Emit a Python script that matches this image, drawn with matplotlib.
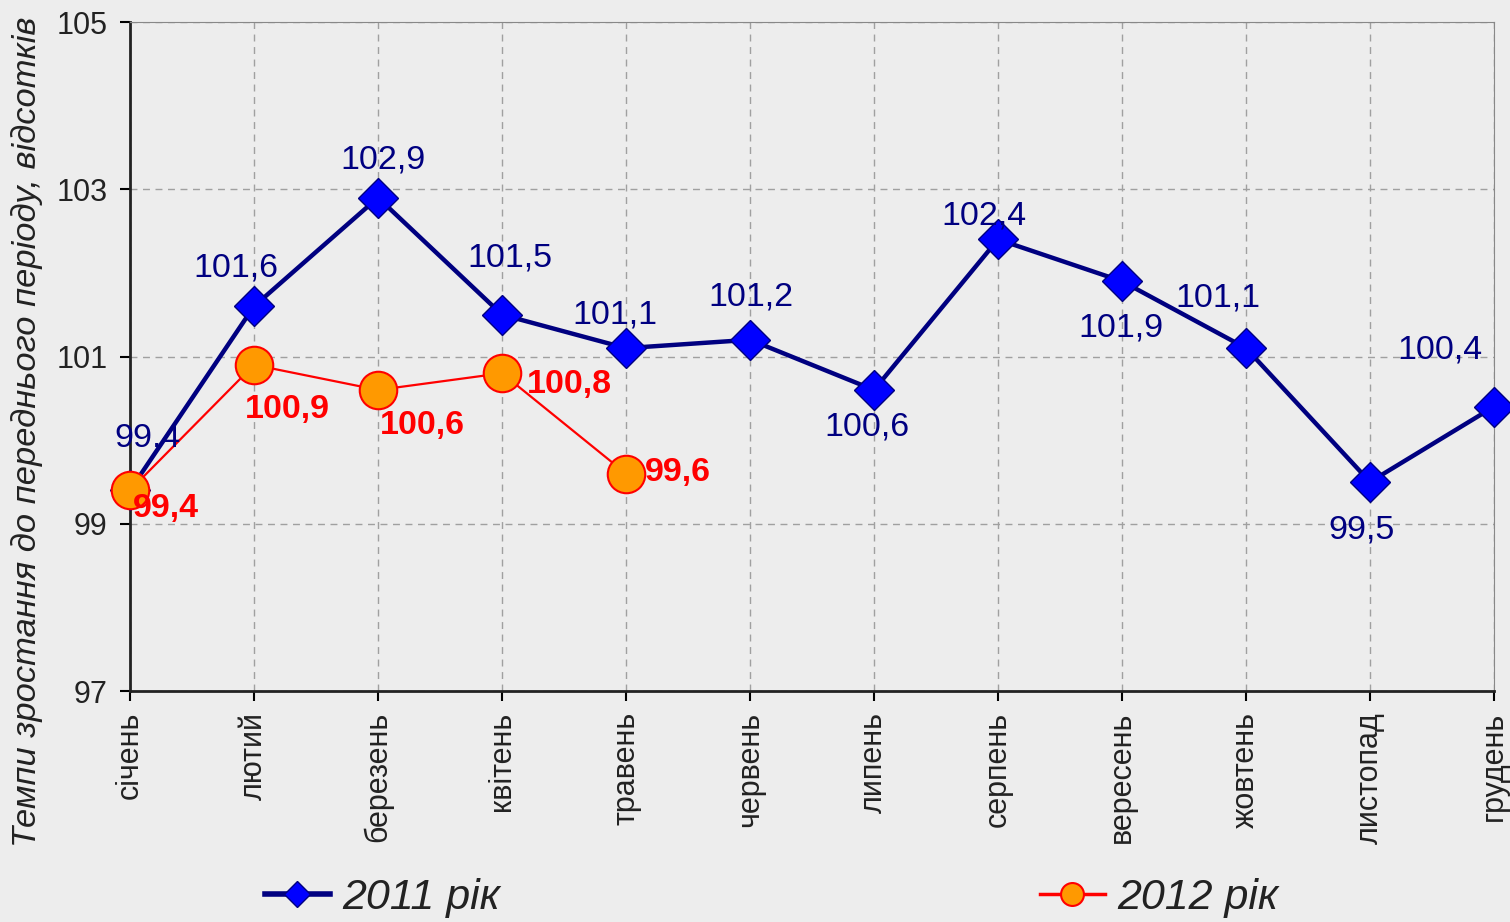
import matplotlib
matplotlib.use("Agg")
import matplotlib.pyplot as plt
from matplotlib.lines import Line2D

# Місяці
months = ['січень', 'лютий', 'березень', 'квітень', 'травень', 'червень',
          'липень', 'серпень', 'вересень', 'жовтень', 'листопад', 'грудень']

# Темпи зростання, %
values_2011 = [99.4, 101.6, 102.9, 101.5, 101.1, 101.2, 100.6, 102.4, 101.9, 101.1, 99.5, 100.4]
values_2012 = [99.4, 100.9, 100.6, 100.8, 99.6]

# Зсув підписів (пікселі)
offsets_2011 = [(18, 52), (-18, 38), (5, 38), (8, 57), (-11, 33), (1, 43),
                (-7, -37), (-14, 23), (-1, -47), (-28, 50), (-8, -48), (-54, 57)]
offsets_2012 = [(36, -18), (33, -45), (44, -36), (67, -11), (52, 1)]

bg = '#ededed'
plt.rcParams['font.family'] = ['Liberation Sans', 'DejaVu Sans']

fig = plt.figure(figsize=(15.1, 9.22), dpi=100, facecolor=bg)
ax = fig.add_axes([130 / 1510, 1 - 691 / 922, (1494 - 130) / 1510, (691 - 22) / 922])
ax.set_facecolor(bg)

x1 = list(range(len(values_2011)))
x2 = list(range(len(values_2012)))

ax.plot(x1, values_2011, color='#000080', lw=3.2, marker='D', markersize=20,
        markerfacecolor='#0000ff', markeredgecolor='#000080', markeredgewidth=1,
        clip_on=False, zorder=3)
ax.plot(x2, values_2012, color='#ff0000', lw=1.6, marker='o', markersize=27,
        markerfacecolor='#ff9900', markeredgecolor='#ff0000', markeredgewidth=1.5,
        clip_on=False, zorder=4)

for x, v, (dx, dy) in zip(x1, values_2011, offsets_2011):
    ax.annotate(f'{v:.1f}'.replace('.', ','), (x, v), xytext=(dx, dy),
                textcoords='offset pixels', ha='center', va='center',
                fontsize=24.5, color='#000080', zorder=5, annotation_clip=False)

for x, v, (dx, dy) in zip(x2, values_2012, offsets_2012):
    ax.annotate(f'{v:.1f}'.replace('.', ','), (x, v), xytext=(dx, dy),
                textcoords='offset pixels', ha='center', va='center',
                fontsize=24.5, fontweight='bold', color='#ff0000', zorder=6,
                annotation_clip=False)

ax.set_xlim(0, 11)
ax.set_ylim(97, 105)
ax.set_yticks([97, 99, 101, 103, 105])
ax.set_xticks(x1)
ax.set_xticklabels(months, rotation=90, fontsize=22, color='#222222')
ax.tick_params(axis='y', labelsize=22, labelcolor='#222222', length=7, width=1.5,
               direction='out', pad=9)
ax.tick_params(axis='x', length=7, width=1.5, direction='out', pad=8)

ax.grid(True, color='#a0a0a0', linestyle=(0, (5, 4)), linewidth=1)
ax.set_axisbelow(True)

ax.spines['left'].set_color('#222222')
ax.spines['left'].set_linewidth(2)
ax.spines['bottom'].set_color('#222222')
ax.spines['bottom'].set_linewidth(2)
ax.spines['top'].set_color('#888888')
ax.spines['right'].set_color('#888888')

fig.text(27 / 1510, 1 - 432 / 922, 'Темпи зростання до переднього періоду, відсотків',
         rotation=90, ha='center', va='center', fontsize=24.8, style='italic', color='#222222')

h2011 = Line2D([], [], color='#000080', lw=4, marker='D', markersize=13,
               markerfacecolor='#0000ff', markeredgecolor='#000080')
h2012 = Line2D([], [], color='#ff0000', lw=2.5, marker='o', markersize=16.5,
               markerfacecolor='#ff9900', markeredgecolor='#ff0000', markeredgewidth=1.5)

for h, lab, xpos in [(h2011, '2011 рік', 265), (h2012, '2012 рік', 1040)]:
    fig.legend([h], [lab], loc='center left', bbox_to_anchor=(xpos / 1510, 1 - 898 / 922),
               frameon=False, borderpad=0, borderaxespad=0, handlelength=1.5,
               handletextpad=0.3, prop={'size': 31, 'style': 'italic'}, labelcolor='#222222')

fig.savefig('out.png', dpi=100, facecolor=bg)
